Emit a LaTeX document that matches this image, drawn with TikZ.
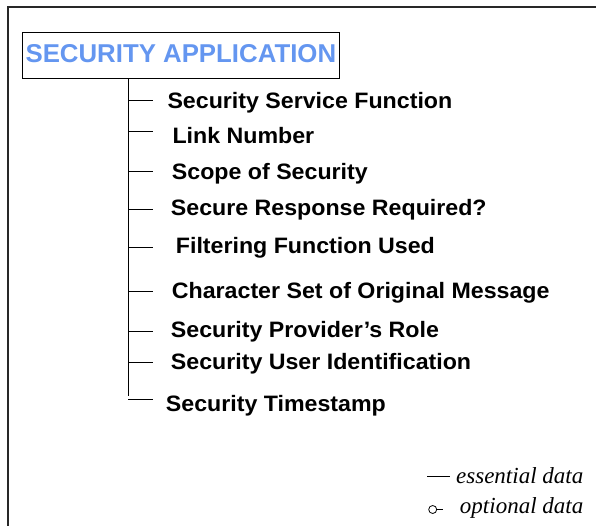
\documentclass[tikz,border=0pt]{standalone}
\usepackage{fontspec}
\setmainfont{Liberation Sans}
\newfontfamily\itemfont[FakeStretch=1.04]{Liberation Sans}
\newfontfamily\legendfont{Liberation Serif}
\definecolor{titleblue}{RGB}{100,150,240}
\definecolor{framegray}{RGB}{40,40,40}
\begin{document}
\begin{tikzpicture}[x=1pt,y=-1pt,
  frame/.style={draw=framegray,line width=1.4pt},
  titlebox/.style={draw=black,line width=1pt,minimum width=316.3pt,minimum height=46.4pt,
    inner sep=0pt,text=titleblue,font=\fontsize{25.8}{28}\selectfont\bfseries,text depth=5pt},
  item/.style={anchor=base west,inner sep=0pt,font=\itemfont\fontsize{22.3}{24}\selectfont\bfseries},
  branch/.style={draw=black,line width=1pt},
  legendtext/.style={anchor=base east,inner sep=0pt,font=\legendfont\fontsize{23}{25}\selectfont\itshape}]
\useasboundingbox (0,0) rectangle (596,526);
% outer frame (top and left edges visible)
\coordinate (fTL) at (8,7);
\coordinate (fTR) at (597,7);
\coordinate (fBL) at (8,527);
\draw[frame] (fTR) -- (fTL) -- (fBL);
% title
\node[titlebox] (title) at (180.85,55.5) {SECURITY APPLICATION};
% trunk
\coordinate (ttop) at (128.5,78.7);
\coordinate (tbot) at (128.5,396);
\draw[branch] (ttop) -- (tbot);
% items
\foreach \i/\ty/\bx/\by/\txt in {
  1/100.7/167.3/108.3/{Security Service Function},
  2/131.7/172.3/144/{Link Number},
  3/171.7/171.7/179.3/{Scope of Security},
  4/209.5/170.7/216/{Secure Response Required?},
  5/248/175.7/253.3/{Filtering Function Used},
  6/291.7/171.7/298.3/{Character Set of Original Message},
  7/331/170.7/337.3/{Security Provider’s Role},
  8/362.7/170.7/369.3/{Security User Identification}}{
  \coordinate (b\i) at (128.5,\ty);
  \coordinate (e\i) at (152.5,\ty);
  \draw[branch] (b\i) -- (e\i);
  \node[item] (n\i) at (\bx,\by) {\txt};
}
\coordinate (b9) at (128,399);
\coordinate (e9) at (152.5,399);
\draw[branch] (b9) -- (e9);
\node[item] (n9) at (165.7,411.7) {Security Timestamp};
% legend
\coordinate (l1a) at (427,476.7);
\coordinate (l1b) at (450,476.7);
\draw[line width=0.8pt] (l1a) -- (l1b);
\node[legendtext] (ess) at (583.5,483) {essential data};
\node[draw=black,line width=0.8pt,circle,minimum size=8pt,inner sep=0pt] (oc) at (432.7,509.5) {};
\coordinate (l2b) at (443,509.5);
\draw[line width=0.8pt] (oc.east) -- (l2b);
\node[legendtext] (opt) at (583.5,513) {optional data};
\end{tikzpicture}
\end{document}
